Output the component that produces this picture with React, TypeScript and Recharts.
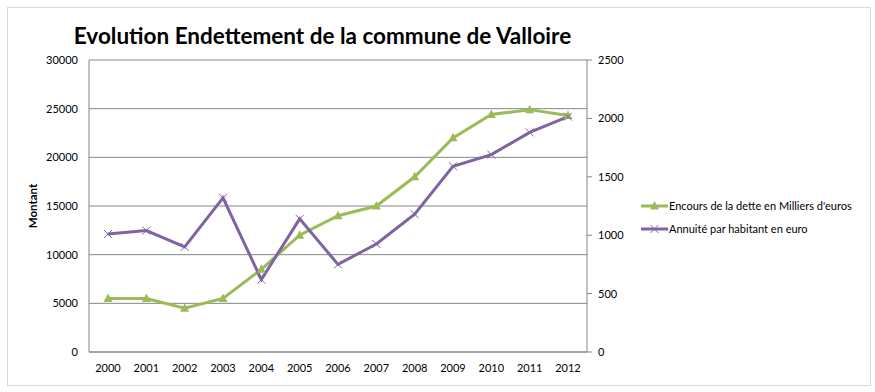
import { CartesianGrid, Legend, Line, LineChart, XAxis, YAxis } from 'recharts';

const years = ['2000', '2001', '2002', '2003', '2004', '2005', '2006', '2007', '2008', '2009', '2010', '2011', '2012'];
const encours = [5500, 5500, 4500, 5500, 8500, 12000, 14000, 15000, 18000, 22000, 24400, 24900, 24300];
const annuite = [1010, 1040, 900, 1320, 620, 1140, 750, 925, 1180, 1590, 1690, 1880, 2015];
const leftTicks = [0, 5000, 10000, 15000, 20000, 25000, 30000];
const rightTicks = [0, 500, 1000, 1500, 2000, 2500];

const GREEN = '#9bbb59';
const PURPLE = '#8064a2';
const GRID = '#868686';
const FONT = 'Lato, "Liberation Sans", sans-serif';

const data = years.map((year, i) => ({ year, encours: encours[i], annuite: annuite[i] }));

const tri = (cx: number, cy: number, color: string, key?: string | number) => (
  <path key={key} d={`M${cx},${cy - 5}L${cx + 4.5},${cy + 3.5}L${cx - 4.5},${cy + 3.5}Z`} fill={color} />
);

const cross = (cx: number, cy: number, color: string, key?: string | number) => (
  <path key={key} d={`M${cx - 4},${cy - 4}L${cx + 4},${cy + 4}M${cx - 4},${cy + 4}L${cx + 4},${cy - 4}`} stroke={color} strokeWidth={1} fill="none" />
);

function LegendBox() {
  const items = [
    { label: "Encours de la dette en Milliers d'euros", color: GREEN, marker: tri },
    { label: 'Annuité par habitant en euro', color: PURPLE, marker: cross },
  ];
  return (
    <div style={{ fontFamily: FONT, fontSize: 11, color: '#000' }}>
      {items.map((it) => (
        <div key={it.label} style={{ display: 'flex', alignItems: 'center', height: 23 }}>
          <svg width={29} height={12}>
            <line x1={1} y1={6} x2={28} y2={6} stroke={it.color} strokeWidth={3} />
            {it.marker(14.5, 6, it.color)}
          </svg>
          <span style={{ whiteSpace: 'nowrap' }}>{it.label}</span>
        </div>
      ))}
    </div>
  );
}

// titre d'axe vertical, centré sur la zone de tracé
const montantLabel = (props: any) => {
  const vb = props.viewBox || {};
  const cy = vb.y + vb.height / 2;
  return (
    <text
      x={32}
      y={cy}
      transform={`rotate(-90, 32, ${cy})`}
      textAnchor="middle"
      dominantBaseline="central"
      fontFamily={FONT}
      fontSize={11.5}
      fontWeight={700}
      fill="#000"
    >
      Montant
    </text>
  );
};

export default function App() {
  return (
    <div style={{ position: 'absolute', left: 0, top: 0, width: 875, height: 392, background: '#fff' }}>
      <div style={{ position: 'absolute', left: 7, top: 7, width: 862, height: 377, border: '1px solid #d9d9d9' }} />
      <div
        style={{
          position: 'absolute',
          left: 0,
          width: 645,
          top: 22,
          textAlign: 'center',
          fontFamily: FONT,
          fontWeight: 700,
          fontSize: 22.5,
          color: '#000',
        }}
      >
        Evolution Endettement de la commune de Valloire
      </div>
      <LineChart
        width={875}
        height={392}
        data={data}
        margin={{ top: 60, right: 0, bottom: 0, left: 0 }}
        style={{ fontFamily: FONT }}
      >
        <CartesianGrid yAxisId="left" vertical={false} stroke={GRID} strokeWidth={1} />
        <XAxis
          dataKey="year"
          height={40}
          interval={0}
          padding={{ left: 19, right: 19 }}
          tickLine={false}
          axisLine={{ stroke: GRID }}
          tick={{ fill: '#000', fontSize: 11 }}
          tickMargin={6}
        />
        <YAxis
          yAxisId="left"
          width={89}
          domain={[0, 30000]}
          ticks={leftTicks}
          tickLine={false}
          axisLine={{ stroke: GRID }}
          tick={{ fill: '#000', fontSize: 11 }}
          tickMargin={5}
          label={{ content: montantLabel }}
        />
        <YAxis
          yAxisId="right"
          orientation="right"
          width={288}
          domain={[0, 2500]}
          ticks={rightTicks}
          tickSize={5}
          tickLine={{ stroke: GRID }}
          axisLine={{ stroke: GRID }}
          tick={{ fill: '#000', fontSize: 11, textAnchor: 'start' }}
          tickMargin={6}
        />
        <Legend
          layout="horizontal"
          verticalAlign="middle"
          align="center"
          wrapperStyle={{ left: 640, top: 194, width: 230 }}
          content={() => <LegendBox />}
        />
        <Line
          yAxisId="left"
          dataKey="encours"
          name="Encours de la dette en Milliers d'euros"
          stroke={GREEN}
          strokeWidth={3}
          isAnimationActive={false}
          dot={(p: any) => tri(p.cx, p.cy, GREEN, p.index)}
          activeDot={false}
        />
        <Line
          yAxisId="right"
          dataKey="annuite"
          name="Annuité par habitant en euro"
          stroke={PURPLE}
          strokeWidth={3}
          isAnimationActive={false}
          dot={(p: any) => cross(p.cx, p.cy, PURPLE, p.index)}
          activeDot={false}
        />
      </LineChart>
    </div>
  );
}
